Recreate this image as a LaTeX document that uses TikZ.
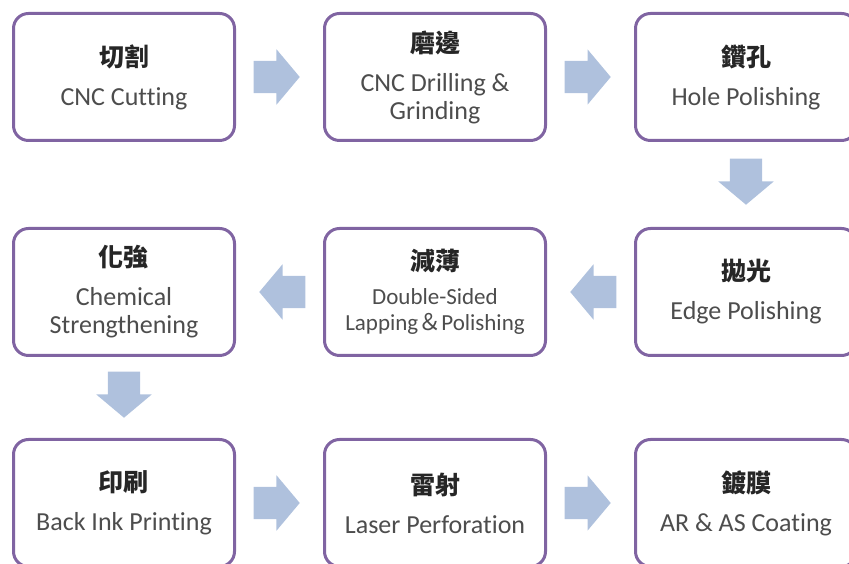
\documentclass[tikz,border=0pt]{standalone}
\usepackage{fontspec}
\setmainfont{Carlito}[Ligatures={NoCommon}]
\newfontfamily\cjk{Noto Sans CJK TC}
\usetikzlibrary{shapes.arrows,calc}
\definecolor{cadre}{HTML}{8064A2}
\definecolor{fleche}{HTML}{AFC1DD}
\definecolor{texte}{HTML}{4D4D4D}
\definecolor{titre}{HTML}{262626}
\begin{document}
\begin{tikzpicture}[x=1pt, y=1pt]
        % Styles des etapes et des fleches
        \tikzstyle{etape} = [rectangle, rounded corners=15pt, draw=cadre, line width=3pt, fill=white,
                minimum width=221pt, minimum height=127pt, align=center, text=texte,
                font=\fontsize{26}{28}\selectfont]
        \tikzstyle{fleche} = [single arrow, fill=fleche, draw=none, anchor=tip,
                minimum height=46pt, single arrow head extend=11.5pt,
                single arrow tip angle=100]
        \tikzstyle{horiz} = [inner xsep=0pt, inner ysep=16pt]
        \tikzstyle{vert} = [inner xsep=16pt, inner ysep=0pt, shape border rotate=270]

        \useasboundingbox (0,0) rectangle (849,564);

        % Premiere ligne
        \node[etape] (cut) at (124,487) {{\cjk\bfseries\color{titre}\fontsize{25}{28}\selectfont 切割}\\[11pt]CNC Cutting};
        \node[etape] (drill) at (435,487) {{\cjk\bfseries\color{titre}\fontsize{25}{28}\selectfont 磨邊}\\[11pt]CNC Drilling \&\\Grinding};
        \node[etape] (hole) at (746,487) {{\cjk\bfseries\color{titre}\fontsize{25}{28}\selectfont 鑽孔}\\[11pt]Hole Polishing};

        % Deuxieme ligne
        \node[etape] (edge) at (746,272) {{\cjk\bfseries\color{titre}\fontsize{25}{28}\selectfont 拋光}\\[11pt]Edge Polishing};
        \node[etape, font=\fontsize{23}{26}\selectfont] (lapping) at (435,272) {{\cjk\bfseries\color{titre}\fontsize{25}{28}\selectfont 減薄}\\[8pt]Double-Sided\\Lapping{\cjk ＆}Polishing};
        \node[etape] (chem) at (124,272) {{\cjk\bfseries\color{titre}\fontsize{25}{28}\selectfont 化強}\\[11pt]Chemical\\Strengthening};

        % Troisieme ligne
        \node[etape] (print) at (124,61) {{\cjk\bfseries\color{titre}\fontsize{25}{28}\selectfont 印刷}\\[11pt]Back Ink Printing};
        \node[etape] (laser) at (435,61) {{\cjk\bfseries\color{titre}\fontsize{25}{28}\selectfont 雷射}\\[11pt]Laser Perforation};
        \node[etape] (coat) at (746,61) {{\cjk\bfseries\color{titre}\fontsize{25}{28}\selectfont 鍍膜}\\[11pt]AR \& AS Coating};

        % Fleches entre les etapes (pointe a 23pt de l'etape suivante)
        \node[fleche, horiz] (f1) at ($(drill.west)+(-23,0)$) {};
        \node[fleche, horiz] (f2) at ($(hole.west)+(-23,0)$) {};
        \node[fleche, vert] (f3) at ($(edge.north)+(0,22)$) {};
        \node[fleche, horiz, shape border rotate=180] (f4) at ($(lapping.east)+(23,0)$) {};
        \node[fleche, horiz, shape border rotate=180] (f5) at ($(chem.east)+(23,0)$) {};
        \node[fleche, vert] (f6) at ($(print.north)+(0,20)$) {};
        \node[fleche, horiz] (f7) at ($(laser.west)+(-23,0)$) {};
        \node[fleche, horiz] (f8) at ($(coat.west)+(-23,0)$) {};

\end{tikzpicture}
\end{document}
